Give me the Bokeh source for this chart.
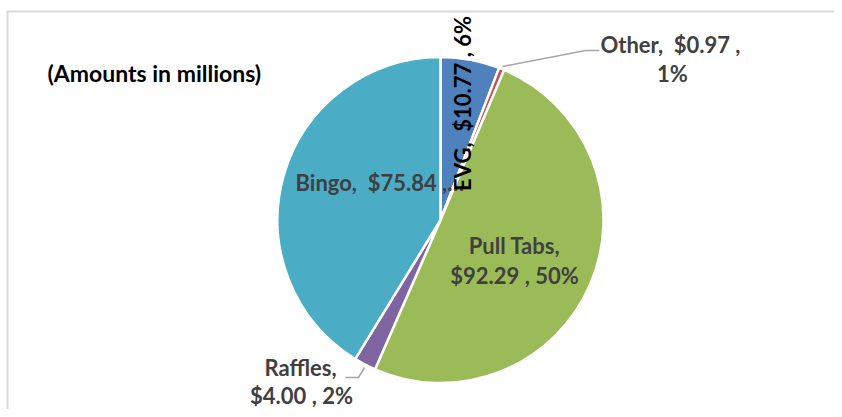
import math
from bokeh.plotting import figure
from bokeh.models import Range1d, ColumnDataSource
from bokeh.core.properties import value
from bokeh.embed import file_html
from bokeh.resources import INLINE

# ---- data ----
categories = ["EVG", "Other", "Pull Tabs", "Raffles", "Bingo"]
amounts = [10.77, 0.97, 92.29, 4.00, 75.84]
colors = ["#4F81BD", "#C0504D", "#9BBB59", "#8064A2", "#4BACC6"]
title_text = "(Amounts in millions)"

total = sum(amounts)
pcts = [round(a / total * 100) for a in amounts]

W, H = 834, 409
p = figure(width=W, height=H, output_backend="svg", toolbar_location=None,
           x_range=Range1d(0, W), y_range=Range1d(-H, 0),
           min_border=0, background_fill_color="white", border_fill_color="white")
p.axis.visible = False
p.grid.visible = False
p.outline_line_color = None

FONT = value("Lato")
FS = "22px"
LABEL_COL = "#404040"
SP = "\u00a0"

# chart area border (left and top edges visible)
p.line(x=[7, 7, W], y=[-H, -11, -11], line_color="#d9d9d9", line_width=2)

# pie
cx, cy, r = 440, -219.5, 163
starts, ends = [], []
a = math.pi / 2
for v in amounts:
    frac = v / total
    b = a - frac * 2 * math.pi
    starts.append(b)
    ends.append(a)
    a = b
src = ColumnDataSource(dict(start=starts, end=ends, color=colors, cat=categories))
p.wedge(x=cx, y=cy, radius=r, start_angle="start", end_angle="end", direction="anticlock",
        fill_color="color", line_color="white", line_width=2.5, source=src)

# leader lines
p.line(x=[502, 585, 599], y=[-66, -50, -50], line_color="#a6a6a6", line_width=1.5)
p.line(x=[345, 358, 364], y=[-377, -377, -367], line_color="#a6a6a6", line_width=1.5)

def lab(i):
    return f"{categories[i]},{SP}{SP}${amounts[i]:.2f}{SP},{SP}{pcts[i]}%"

def txt(x, y, s, color=LABEL_COL, align="center", angle=0.0, fs=FS):
    p.text(x=[x], y=[y], text=[s], text_font=FONT, text_font_size=fs,
           text_font_style="bold", text_color=color, text_align=align,
           text_baseline="middle", angle=angle)

# title
txt(47, -72, title_text, color="black", align="left", fs="23px")

# Bingo (truncated in original)
bingo_full = lab(4)
txt(295, -182, bingo_full[:bingo_full.rfind(",") + 1] + "…", align="left")

# Pull Tabs
txt(514, -245, f"{categories[2]},")
txt(514, -275, f"${amounts[2]:.2f}{SP},{SP}{pcts[2]}%")

# Raffles
txt(300, -367, f"{categories[3]},")
txt(301, -395, f"${amounts[3]:.2f}{SP},{SP}{pcts[3]}%")

# Other
txt(670, -44, f"{categories[1]},{SP}{SP}${amounts[1]:.2f}{SP},")
txt(672, -73, f"{pcts[1]}%")

# EVG rotated
txt(462, -103, lab(0), color="black", angle=math.pi / 2)

open("out.html", "w").write(file_html(p, INLINE))
